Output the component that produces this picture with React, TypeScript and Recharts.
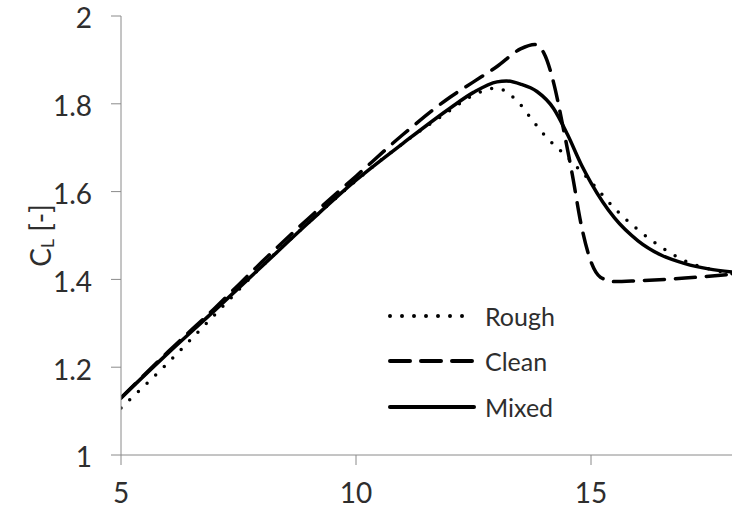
import React from 'react';
import { LineChart, Line, XAxis, YAxis, Legend, Label } from 'recharts';

// angle of attack [deg] and lift coefficient for each surface condition
const ROUGH_ALPHA = [5, 6, 7, 8, 9, 10, 11, 12, 12.5, 13, 13.25, 13.5, 13.75, 14, 14.5, 15, 15.5, 16, 16.5, 17, 17.5, 18];
const ROUGH_CL = [1.107, 1.21, 1.32, 1.43, 1.53, 1.625, 1.71, 1.785, 1.82, 1.836, 1.823, 1.798, 1.763, 1.73, 1.678, 1.622, 1.562, 1.513, 1.473, 1.442, 1.424, 1.413];

const CLEAN_ALPHA = [5, 6, 7, 8, 9, 10, 11, 12, 12.5, 13, 13.5, 13.8, 14, 14.2, 14.4, 14.6, 14.8, 15, 15.2, 15.5, 16, 17, 18];
const CLEAN_CL = [1.13, 1.235, 1.335, 1.44, 1.54, 1.635, 1.73, 1.815, 1.85, 1.885, 1.925, 1.935, 1.915, 1.85, 1.75, 1.64, 1.52, 1.44, 1.405, 1.395, 1.397, 1.403, 1.412];

const MIXED_ALPHA = [5, 6, 7, 8, 9, 10, 11, 12, 12.5, 13, 13.2, 13.5, 13.85, 14.2, 14.5, 14.8, 15, 15.5, 16, 16.5, 17, 17.5, 18];
const MIXED_CL = [1.13, 1.232, 1.33, 1.43, 1.53, 1.626, 1.71, 1.79, 1.826, 1.85, 1.852, 1.845, 1.828, 1.79, 1.73, 1.66, 1.62, 1.54, 1.488, 1.455, 1.436, 1.424, 1.417];

const X_TICKS = [5, 10, 15];
const Y_TICKS = [1, 1.2, 1.4, 1.6, 1.8, 2];

const zip = (a: number[], c: number[]) => a.map((alpha, i) => ({ alpha, cl: c[i] }));

const SERIES = [
  { name: 'Rough', data: zip(ROUGH_ALPHA, ROUGH_CL), dash: '0 12' },
  { name: 'Clean', data: zip(CLEAN_ALPHA, CLEAN_CL), dash: '20 11' },
  { name: 'Mixed', data: zip(MIXED_ALPHA, MIXED_CL), dash: undefined },
];

const FONT = 'Lato, "Open Sans", sans-serif';
const AXIS = '#8a8a8a';
const TEXT = '#2e2e2e';

const YTitle = (props: any) => {
  const { viewBox } = props;
  const cx = 40;
  const cy = viewBox.y + viewBox.height / 2;
  return (
    <text
      x={cx}
      y={cy}
      transform={`rotate(-90, ${cx}, ${cy})`}
      textAnchor="middle"
      dominantBaseline="central"
      fill={TEXT}
      fontSize={28}
      fontFamily={FONT}
    >
      C<tspan fontSize={18} dy={7}>L</tspan>
      <tspan dy={-7}> [-]</tspan>
    </text>
  );
};

const renderLegend = () => (
  <div style={{ fontFamily: FONT, fontSize: 25, color: TEXT }}>
    {SERIES.map((s) => (
      <div key={s.name} style={{ display: 'flex', alignItems: 'center', height: 45.5 }}>
        <svg width={99} height={10}>
          <line
            x1={4}
            x2={88}
            y1={5}
            y2={5}
            stroke="#000"
            strokeWidth={4}
            strokeDasharray={s.dash}
            strokeLinecap="round"
          />
        </svg>
        <span>{s.name}</span>
      </div>
    ))}
  </div>
);

export default function App() {
  return (
    <div style={{ position: 'fixed', left: 0, top: 0, background: '#fff' }}>
      <LineChart width={735} height={509} margin={{ top: 16, right: 3, left: 0, bottom: 0 }}>
        <XAxis
          type="number"
          dataKey="alpha"
          domain={[5, 18]}
          ticks={X_TICKS}
          allowDataOverflow
          height={54}
          stroke={AXIS}
          tickSize={10}
          tickMargin={18}
          tick={{ fill: TEXT, fontSize: 28, fontFamily: FONT }}
        />
        <YAxis
          type="number"
          domain={[1, 2]}
          ticks={Y_TICKS}
          width={121}
          stroke={AXIS}
          tickSize={10}
          tickMargin={19}
          tick={{ fill: TEXT, fontSize: 28, fontFamily: FONT, dy: 2.5 }}
        >
          <Label content={YTitle} />
        </YAxis>
        <Legend
          layout="horizontal"
          verticalAlign="middle"
          align="center"
          content={renderLegend}
          wrapperStyle={{ position: 'absolute', left: 386, top: 293, width: 'auto', height: 'auto' }}
        />
        {SERIES.map((s) => (
          <Line
            key={s.name}
            name={s.name}
            data={s.data}
            dataKey="cl"
            type="monotone"
            stroke="#000"
            strokeWidth={3.5}
            strokeDasharray={s.dash}
            strokeLinecap="round"
            dot={false}
            activeDot={false}
            isAnimationActive={false}
          />
        ))}
      </LineChart>
    </div>
  );
}
